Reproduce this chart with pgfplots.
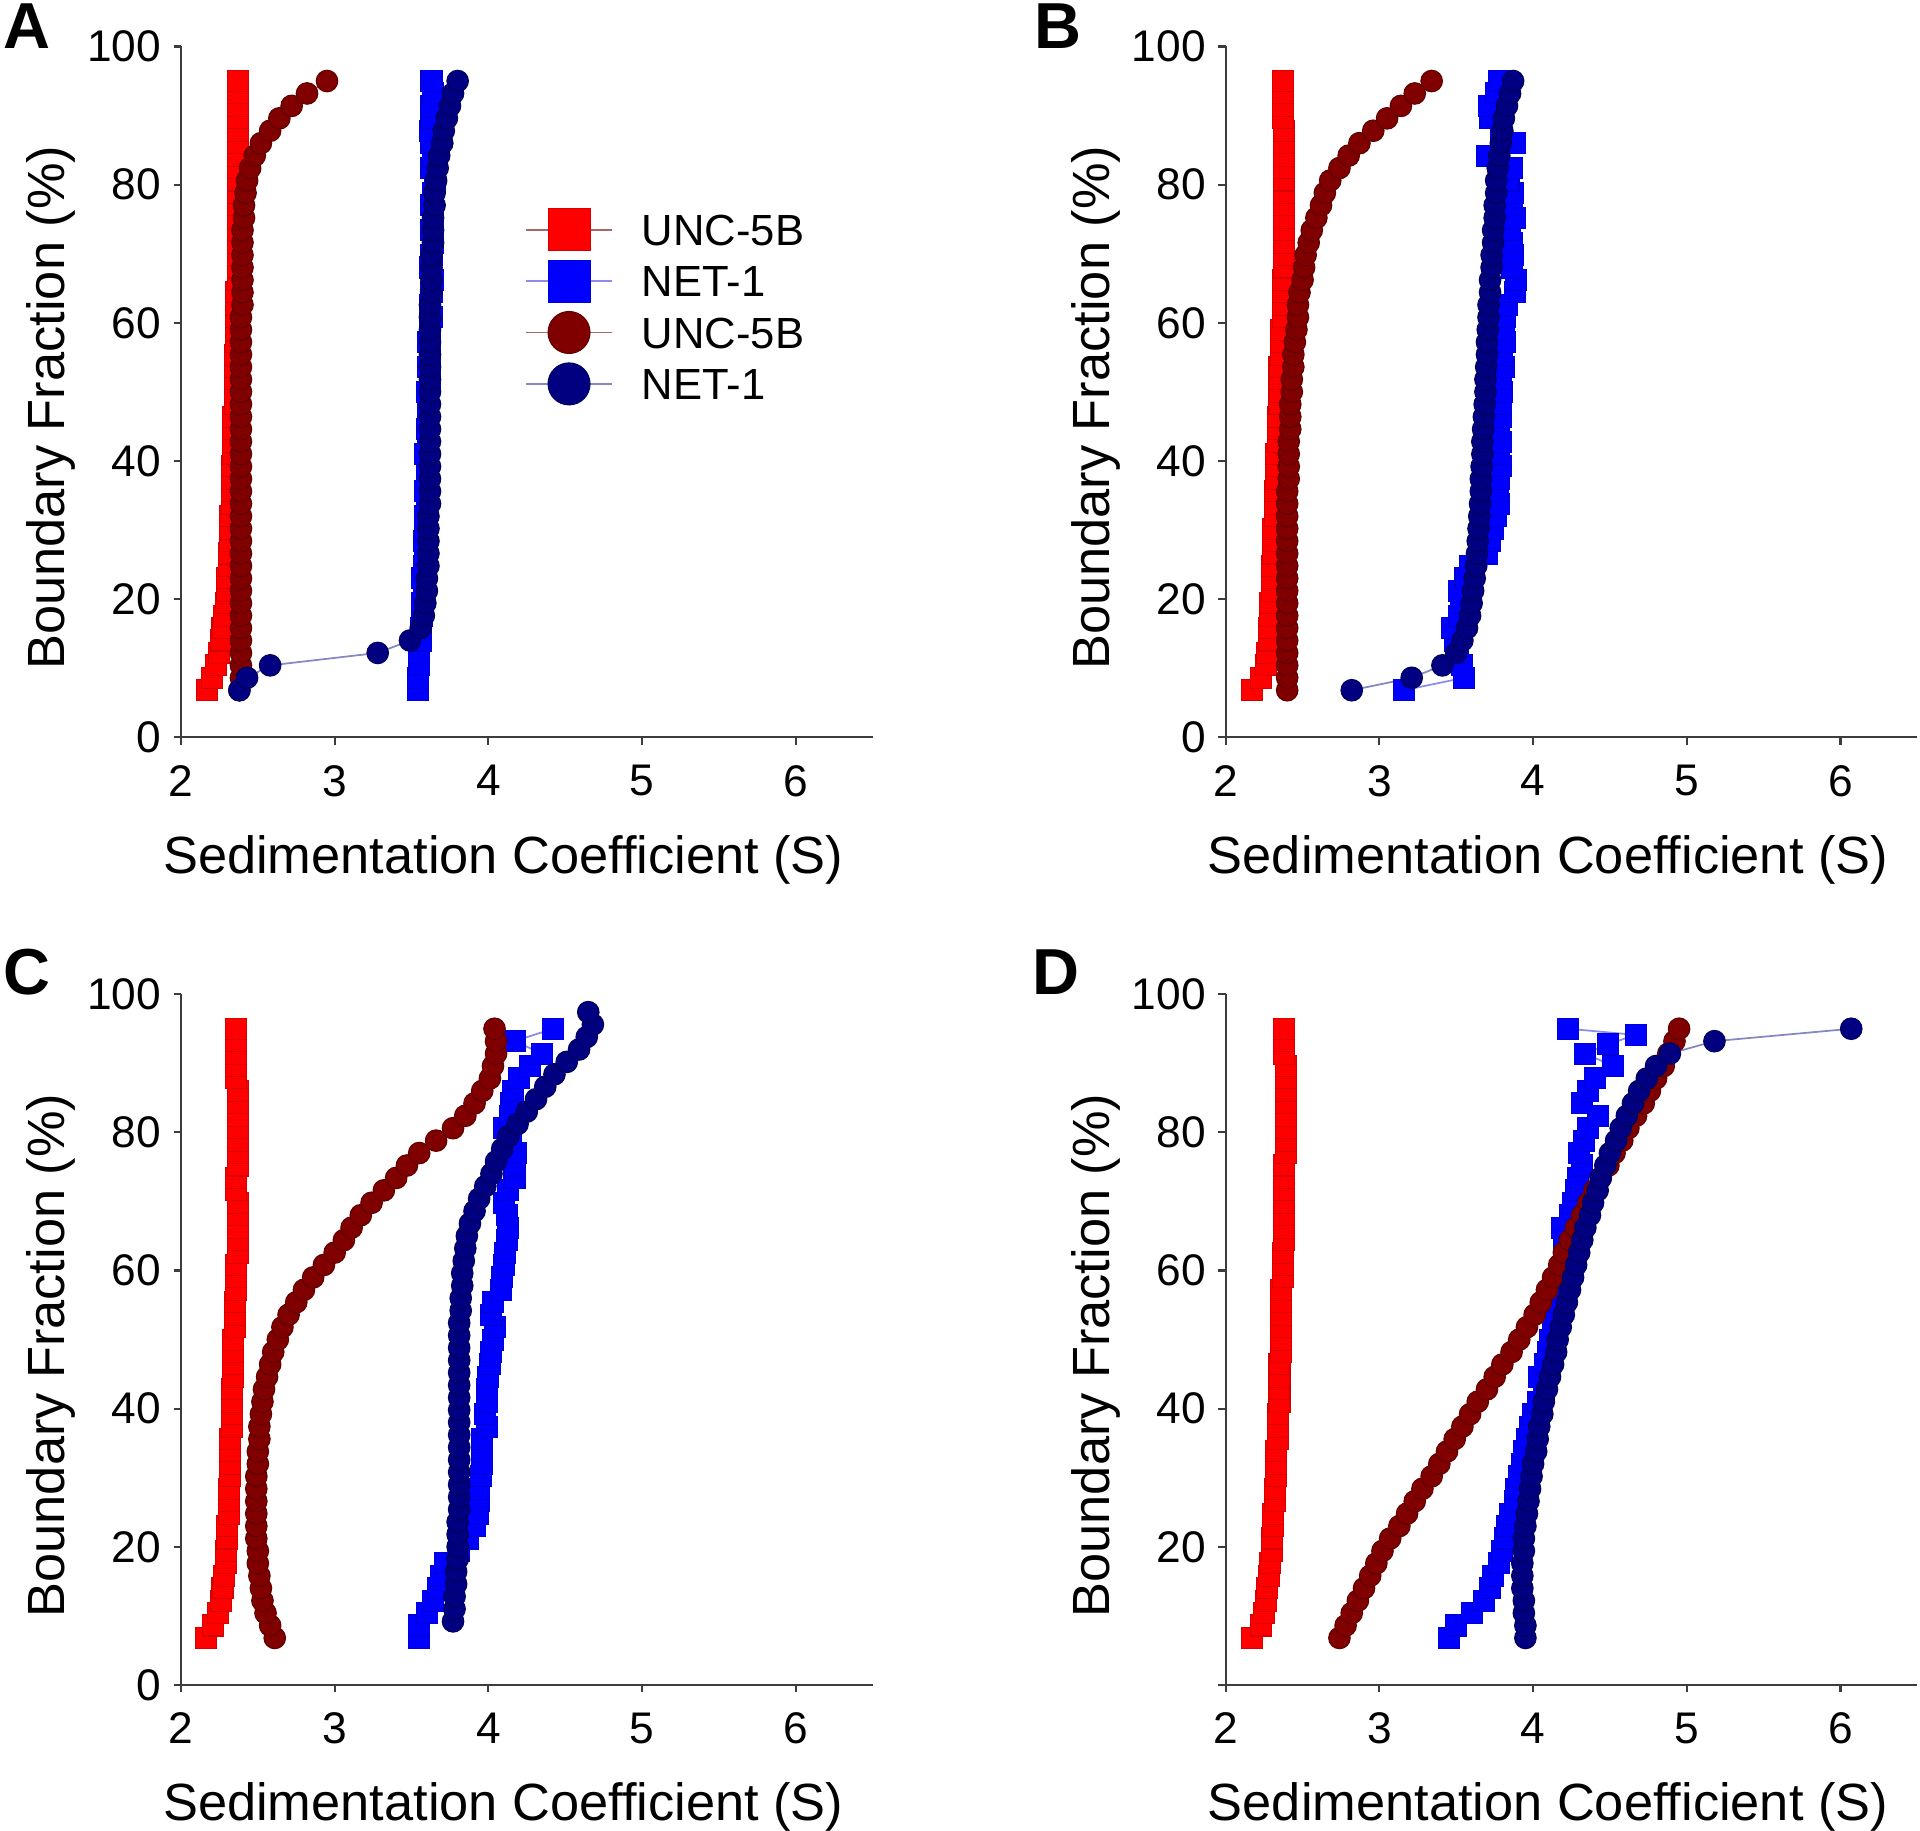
\documentclass[border=0pt]{standalone}
\usepackage{fontspec}
\setmainfont{Liberation Sans}
\usepackage{pgfplots}
\usepackage{pgfplotstable}
\pgfplotsset{compat=1.18}

\definecolor{cRed}{RGB}{255,0,0}
\definecolor{cBlue}{RGB}{0,0,255}
\definecolor{cBrown}{RGB}{128,0,0}
\definecolor{cNavy}{RGB}{0,0,128}
\definecolor{lRed}{RGB}{165,105,105}
\definecolor{lBlue}{RGB}{140,140,235}
\definecolor{lNavy}{RGB}{135,135,195}
\definecolor{axisgray}{RGB}{60,60,60}

% Panel A: y, red squares, blue squares, brown circles, navy circles
\pgfplotstableread{
y r b br n
6.8 2.17 3.54 2.38 2.38
8.6 2.20 3.54 2.39 2.43
10.4 2.23 3.55 2.39 2.58
12.2 2.25 3.55 2.39 3.28
14.0 2.26 3.56 2.39 3.49
15.8 2.27 3.56 2.39 3.56
17.6 2.28 3.57 2.39 3.58
19.4 2.29 3.57 2.39 3.59
21.2 2.30 3.58 2.39 3.60
23.0 2.30 3.57 2.39 3.60
24.8 2.31 3.58 2.39 3.61
26.6 2.31 3.59 2.39 3.61
28.4 2.32 3.58 2.39 3.61
30.2 2.32 3.59 2.39 3.61
32.0 2.32 3.59 2.39 3.61
33.8 2.33 3.60 2.39 3.62
35.6 2.33 3.59 2.39 3.62
37.4 2.33 3.60 2.39 3.62
39.2 2.33 3.60 2.39 3.62
41.0 2.34 3.59 2.39 3.62
42.8 2.34 3.61 2.39 3.62
44.6 2.34 3.60 2.39 3.62
46.4 2.34 3.61 2.39 3.62
48.2 2.35 3.61 2.39 3.62
50.0 2.35 3.60 2.39 3.62
51.8 2.35 3.62 2.39 3.62
53.6 2.35 3.61 2.39 3.62
55.4 2.35 3.62 2.39 3.62
57.2 2.36 3.61 2.39 3.62
59.0 2.36 3.62 2.39 3.62
60.8 2.36 3.63 2.39 3.62
62.6 2.36 3.62 2.40 3.62
64.4 2.36 3.63 2.40 3.63
66.2 2.37 3.64 2.40 3.63
68.0 2.37 3.62 2.40 3.63
69.8 2.37 3.63 2.40 3.63
71.6 2.37 3.64 2.40 3.64
73.4 2.37 3.63 2.40 3.64
75.2 2.37 3.64 2.41 3.64
77.0 2.37 3.63 2.41 3.65
78.8 2.37 3.64 2.42 3.65
80.6 2.37 3.65 2.43 3.66
82.4 2.37 3.63 2.45 3.67
84.2 2.37 3.64 2.48 3.68
86.0 2.37 3.63 2.52 3.70
87.8 2.37 3.62 2.58 3.71
89.6 2.37 3.63 2.64 3.73
91.4 2.37 3.63 2.72 3.75
93.2 2.37 3.64 2.82 3.77
95.0 2.37 3.63 2.95 3.80
}\tblA

\pgfplotstableread{
y r b br n
6.8 2.17 3.16 2.40 2.82
8.6 2.23 3.55 2.40 3.21
10.4 2.26 3.54 2.40 3.41
12.2 2.27 3.51 2.40 3.50
14.0 2.28 3.49 2.40 3.54
15.8 2.28 3.47 2.40 3.57
17.6 2.29 3.52 2.40 3.59
19.4 2.29 3.53 2.40 3.60
21.2 2.30 3.52 2.40 3.61
23.0 2.30 3.56 2.40 3.62
24.8 2.30 3.59 2.40 3.63
26.6 2.31 3.70 2.40 3.635
28.4 2.31 3.72 2.40 3.64
30.2 2.31 3.74 2.40 3.645
32.0 2.32 3.76 2.40 3.65
33.8 2.32 3.78 2.40 3.655
35.6 2.32 3.77 2.40 3.66
37.4 2.33 3.78 2.41 3.66
39.2 2.33 3.79 2.41 3.665
41.0 2.33 3.78 2.41 3.67
42.8 2.34 3.79 2.41 3.67
44.6 2.34 3.78 2.42 3.675
46.4 2.34 3.79 2.42 3.68
48.2 2.35 3.79 2.42 3.685
50.0 2.35 3.80 2.43 3.69
51.8 2.35 3.79 2.43 3.69
53.6 2.35 3.81 2.44 3.695
55.4 2.36 3.80 2.44 3.70
57.2 2.36 3.82 2.45 3.70
59.0 2.36 3.81 2.46 3.705
60.8 2.37 3.82 2.47 3.71
62.6 2.37 3.83 2.47 3.71
64.4 2.37 3.88 2.48 3.72
66.2 2.37 3.89 2.50 3.72
68.0 2.38 3.86 2.51 3.73
69.8 2.38 3.87 2.52 3.73
71.6 2.38 3.86 2.54 3.74
73.4 2.38 3.85 2.56 3.74
75.2 2.38 3.88 2.59 3.75
77.0 2.38 3.86 2.62 3.75
78.8 2.38 3.87 2.645 3.76
80.6 2.38 3.84 2.68 3.76
82.4 2.38 3.86 2.74 3.77
84.2 2.38 3.70 2.80 3.78
86.0 2.38 3.88 2.87 3.79
87.8 2.38 3.79 2.96 3.80
89.6 2.37 3.72 3.05 3.81
91.4 2.37 3.71 3.14 3.83
93.2 2.37 3.76 3.23 3.85
95.0 2.37 3.78 3.34 3.87
}\tblB

\pgfplotstableread{
y r b br yn n
6.8 2.16 3.55 2.61 9.2 3.77
8.6 2.21 3.55 2.58 11.0 3.78
10.4 2.24 3.60 2.55 12.8 3.78
12.2 2.26 3.64 2.53 14.6 3.79
14.0 2.27 3.67 2.52 16.4 3.79
15.8 2.28 3.69 2.51 18.2 3.80
17.6 2.29 3.72 2.50 20.0 3.80
19.4 2.29 3.81 2.50 21.8 3.80
21.2 2.30 3.87 2.49 23.6 3.80
23.0 2.30 3.91 2.49 25.4 3.81
24.8 2.31 3.93 2.49 27.2 3.81
26.6 2.31 3.94 2.49 29.0 3.81
28.4 2.31 3.94 2.49 30.8 3.81
30.2 2.32 3.95 2.49 32.6 3.81
32.0 2.32 3.96 2.50 34.4 3.81
33.8 2.32 3.96 2.50 36.2 3.81
35.6 2.32 3.96 2.51 38.0 3.81
37.4 2.33 3.99 2.51 39.8 3.81
39.2 2.33 3.98 2.52 41.6 3.81
41.0 2.33 3.99 2.53 43.4 3.81
42.8 2.33 3.99 2.54 45.2 3.81
44.6 2.34 4.00 2.56 47.0 3.81
46.4 2.34 4.01 2.58 48.8 3.81
48.2 2.34 4.02 2.60 50.6 3.81
50.0 2.34 4.03 2.63 52.4 3.81
51.8 2.35 4.04 2.66 54.2 3.82
53.6 2.35 4.02 2.70 56.0 3.82
55.4 2.35 4.03 2.75 57.8 3.83
57.2 2.36 4.08 2.80 59.6 3.83
59.0 2.36 4.09 2.86 61.4 3.84
60.8 2.36 4.10 2.93 63.2 3.85
62.6 2.37 4.11 3.00 65.0 3.86
64.4 2.37 4.12 3.06 66.8 3.88
66.2 2.37 4.13 3.11 68.6 3.91
68.0 2.37 4.12 3.17 70.4 3.94
69.8 2.37 4.10 3.24 72.2 3.98
71.6 2.36 4.13 3.32 74.0 4.02
73.4 2.36 4.17 3.40 75.8 4.05
75.2 2.37 4.17 3.47 77.6 4.09
77.0 2.37 4.18 3.55 79.4 4.13
78.8 2.37 4.15 3.66 81.2 4.19
80.6 2.37 4.10 3.77 83.0 4.25
82.4 2.37 4.14 3.85 84.8 4.31
84.2 2.37 4.15 3.91 86.6 4.37
86.0 2.37 4.16 3.96 88.4 4.43
87.8 2.36 4.20 4.01 90.2 4.51
89.6 2.36 4.27 4.03 92.0 4.59
91.4 2.36 4.35 4.05 93.8 4.64
93.2 2.36 4.17 4.05 95.6 4.68
95.0 2.36 4.42 4.04 97.4 4.65
}\tblC

\pgfplotstableread{
y r br n
6.8 2.17 2.74 3.95
8.6 2.23 2.78 3.95
10.4 2.25 2.82 3.94
12.2 2.26 2.86 3.94
14.0 2.27 2.90 3.93
15.8 2.28 2.94 3.93
17.6 2.29 2.98 3.93
19.4 2.30 3.02 3.94
21.2 2.30 3.07 3.94
23.0 2.31 3.13 3.95
24.8 2.31 3.18 3.96
26.6 2.32 3.23 3.97
28.4 2.32 3.28 3.98
30.2 2.33 3.34 3.99
32.0 2.33 3.39 4.00
33.8 2.33 3.44 4.02
35.6 2.34 3.49 4.03
37.4 2.34 3.54 4.04
39.2 2.34 3.59 4.06
41.0 2.35 3.64 4.07
42.8 2.35 3.70 4.09
44.6 2.35 3.75 4.11
46.4 2.35 3.80 4.13
48.2 2.36 3.86 4.15
50.0 2.36 3.91 4.16
51.8 2.36 3.96 4.18
53.6 2.36 4.01 4.20
55.4 2.36 4.05 4.22
57.2 2.36 4.09 4.24
59.0 2.37 4.13 4.26
60.8 2.37 4.17 4.28
62.6 2.37 4.20 4.30
64.4 2.38 4.24 4.32
66.2 2.38 4.28 4.34
68.0 2.38 4.32 4.37
69.8 2.38 4.36 4.39
71.6 2.38 4.40 4.42
73.4 2.38 4.44 4.44
75.2 2.38 4.49 4.47
77.0 2.39 4.53 4.50
78.8 2.39 4.58 4.54
80.6 2.39 4.62 4.57
82.4 2.39 4.67 4.61
84.2 2.39 4.72 4.65
86.0 2.39 4.76 4.69
87.8 2.39 4.80 4.74
89.6 2.39 4.85 4.80
91.4 2.38 4.88 4.89
93.2 2.38 4.92 5.18
95.0 2.38 4.95 6.07
}\tblD

\pgfplotstableread{
y b
6.8 3.45
8.6 3.50
10.4 3.60
12.2 3.68
14.0 3.72
15.8 3.74
17.6 3.78
19.4 3.80
21.2 3.82
23.0 3.83
24.8 3.85
26.6 3.88
28.4 3.89
30.2 3.91
32.0 3.93
33.8 3.94
35.6 3.96
37.4 3.98
39.2 4.00
41.0 4.03
42.8 4.07
44.6 4.04
46.4 4.08
48.2 4.10
50.0 4.11
51.8 4.13
53.6 4.15
55.4 4.17
57.2 4.18
59.0 4.20
60.8 4.21
62.6 4.23
64.4 4.20
66.2 4.19
68.0 4.24
69.8 4.26
71.6 4.28
73.4 4.29
75.2 4.32
77.0 4.30
78.8 4.33
80.6 4.36
82.4 4.42
84.2 4.32
86.0 4.36
87.8 4.40
89.6 4.52
91.4 4.34
92.8 4.49
94.1 4.67
95.0 4.23
}\tblDb

\pgfplotsset{
  panel/.style={
    scale only axis, width=69.16mm, height=69.07mm,
    xmin=2, xmax=6.5, ymin=0, ymax=100,
    xtick={2,3,4,5,6}, ytick={0,20,40,60,80,100},
    axis x line*=bottom, axis y line*=left,
    axis line style={axisgray, line width=0.6pt},
    tick style={axisgray, line width=0.6pt},
    tick align=outside, major tick length=0.75mm,
    /pgf/number format/assume math mode=true,
    ticklabel style={font=\fontsize{12.6}{15}\selectfont},
    xticklabel style={yshift=-0.8mm},
    label style={font=\fontsize{14.9}{18}\selectfont},
    xlabel={Sedimentation Coefficient (S)},
    ylabel={Boundary Fraction (\%)},
    xlabel style={at={(axis description cs:0.466,-0.177)}, anchor=center},
    ylabel style={at={(axis description cs:-0.188,0.477)}, anchor=center},
    clip=false,
  },
  sRed/.style={color=lRed, line width=0.5pt, mark=square*, mark size=1.05mm,
    mark options={fill=cRed, draw=cRed!85!black, line width=0.3pt}},
  sBlue/.style={color=lBlue, line width=0.5pt, mark=square*, mark size=1.05mm,
    mark options={fill=cBlue, draw=cBlue!85!black, line width=0.3pt}},
  sBrown/.style={color=lRed, line width=0.5pt, mark=*, mark size=1.08mm,
    mark options={fill=cBrown, draw=cBrown!75!black, line width=0.3pt}},
  sNavy/.style={color=lNavy, line width=0.5pt, mark=*, mark size=1.08mm,
    mark options={fill=cNavy, draw=cNavy!75!black, line width=0.3pt}},
}

\begin{document}
\begin{tikzpicture}
\useasboundingbox (0,0) rectangle (192mm,-183.1mm);

% Panel A
\begin{axis}[panel, at={(18.10mm,-73.72mm)}, anchor=south west,
  legend image code/.code={\draw[mark repeat=2,mark phase=2,#1,mark size=2.1mm] plot coordinates {(0mm,0mm) (4.3mm,0mm) (8.6mm,0mm)};},
  legend style={draw=none, fill=none, at={(axis description cs:0.4966,0.773)}, anchor=north west,
    inner sep=0pt, font=\fontsize{12.4}{14}\selectfont, column sep=2.9mm,
    nodes={inner xsep=0pt, inner ysep=0pt, text height=4.14mm, text depth=1.0mm}},
  legend cell align=left]
\addplot[sRed] table[x=r,y=y] {\tblA};
\addlegendentry{UNC-5B}
\addplot[sBlue] table[x=b,y=y] {\tblA};
\addlegendentry{NET-1}
\addplot[sBrown] table[x=br,y=y] {\tblA};
\addlegendentry{UNC-5B}
\addplot[sNavy] table[x=n,y=y] {\tblA};
\addlegendentry{NET-1}
\end{axis}

% Panel B
\begin{axis}[panel, at={(122.57mm,-73.72mm)}, anchor=south west]
\addplot[sRed] table[x=r,y=y] {\tblB};
\addplot[sBlue] table[x=b,y=y] {\tblB};
\addplot[sBrown] table[x=br,y=y] {\tblB};
\addplot[sNavy] table[x=n,y=y] {\tblB};
\end{axis}

% Panel C
\begin{axis}[panel, at={(18.10mm,-168.49mm)}, anchor=south west]
\addplot[sRed] table[x=r,y=y] {\tblC};
\addplot[sBlue] table[x=b,y=y] {\tblC};
\addplot[sBrown] table[x=br,y=y] {\tblC};
\addplot[sNavy] table[x=n,y=yn] {\tblC};
\end{axis}

% Panel D
\begin{axis}[panel, at={(122.57mm,-168.49mm)}, anchor=south west,
  yticklabels={,20,40,60,80,100}]
\addplot[sRed] table[x=r,y=y] {\tblD};
\addplot[sBlue] table[x=b,y=y] {\tblDb};
\addplot[sBrown] table[x=br,y=y] {\tblD};
\addplot[sNavy] table[x=n,y=y] {\tblD};
\end{axis}

\begin{scope}[every node/.style={font=\fontsize{18.5}{20}\bfseries\selectfont, inner sep=0pt}]
\node at (2.7mm,-2.65mm) {A};
\node at (105.8mm,-2.65mm) {B};
\node at (2.7mm,-97.2mm) {C};
\node at (105.6mm,-97.2mm) {D};
\end{scope}
\end{tikzpicture}
\end{document}
